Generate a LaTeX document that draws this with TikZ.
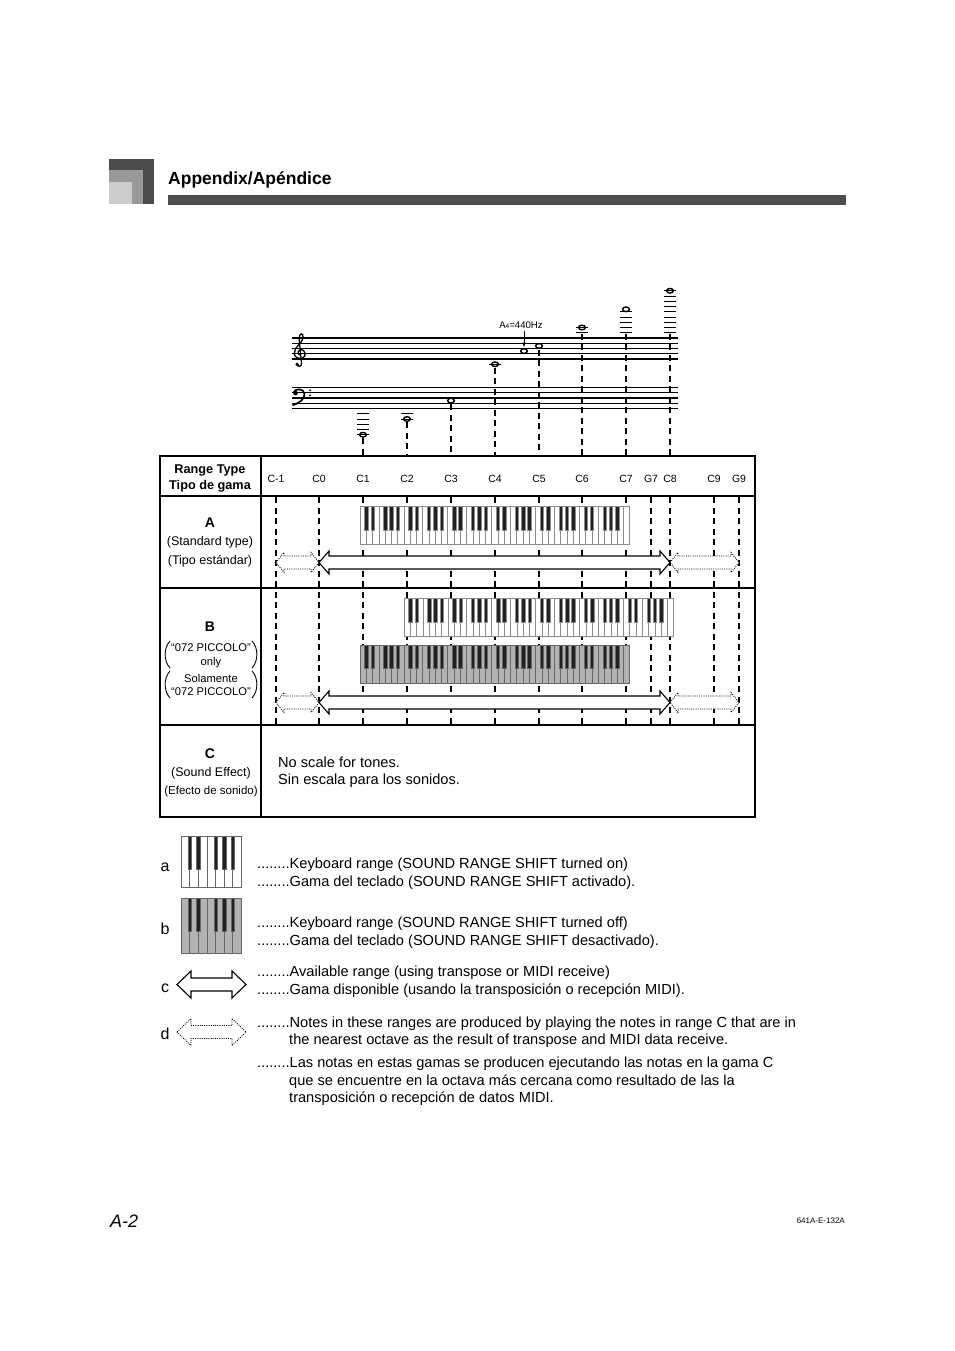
\documentclass[tikz,border=0pt]{standalone}
\usepackage{fontspec}
\setmainfont{Liberation Sans}
\usetikzlibrary{calc,arrows.meta}
\definecolor{hdark}{gray}{0.30}
\definecolor{hmid}{gray}{0.60}
\definecolor{hlight}{gray}{0.80}
\definecolor{keygrey}{gray}{0.70}
\definecolor{keyedge}{gray}{0.55}
\definecolor{keyedgeb}{gray}{0.40}
\definecolor{blackkey}{gray}{0.13}

% #1 x0, #2 white width, #3 white keys, #4 ytop, #5 ybottom, #6 black bottom, #7 fill, #8 black width, #9 edge colour
\newcommand{\pianokb}[9]{%
  \pgfmathtruncatemacro{\kbN}{#3-1}%
  \foreach \ki in {0,...,\kbN}{%
    \draw[#9, fill=#7, line width=0.6] ({#1+\ki*#2},#4) rectangle ({#1+(\ki+1)*#2},#5);
  }%
  \pgfmathtruncatemacro{\kbM}{#3-2}%
  \foreach \ki in {0,...,\kbM}{%
    \pgfmathtruncatemacro{\kbr}{mod(\ki,7)}%
    \ifnum\kbr=2 \else\ifnum\kbr=6 \else
      \draw[#9, fill=blackkey, line width=0.4] ({#1+(\ki+1)*#2-#8/2},#4) rectangle ({#1+(\ki+1)*#2+#8/2},#6);
    \fi\fi
  }%
}
% #1 xl, #2 xr, #3 yc, #4 head length, #5 head half height, #6 shaft half height, #7 style
\newcommand{\dbarrow}[7]{%
  \path[#7] (#1,#3) -- ({#1+#4},{#3-#5}) -- ({#1+#4},{#3-#6}) -- ({#2-#4},{#3-#6}) -- ({#2-#4},{#3-#5}) -- (#2,#3)
    -- ({#2-#4},{#3+#5}) -- ({#2-#4},{#3+#6}) -- ({#1+#4},{#3+#6}) -- ({#1+#4},{#3+#5}) -- cycle;
}

\tikzset{
  txt/.style={anchor=base west, inner sep=0, font=\fontsize{14.6}{17}\selectfont},
  ctxt/.style={anchor=base, inner sep=0},
  colhead/.style={anchor=base, inner sep=0, font=\fontsize{10.5}{12}\selectfont},
  staffline/.style={line width=1.1},
  ledger/.style={line width=1},
  notehead/.style={line width=1.4},
  guide/.style={dash pattern=on 6pt off 4.5pt, line width=1.1},
  tabline/.style={line width=2},
  rowline/.style={line width=1.3},
  solidarrow/.style={draw, fill=white, line width=1.1, line join=miter},
  dotarrow/.style={draw, fill=white, line width=0.8, dash pattern=on 1pt off 1.2pt},
}

\begin{document}
\begin{tikzpicture}[x=1pt,y=-1pt]
\useasboundingbox (0,0) rectangle (954,1351);
\fill[white] (0,0) rectangle (954,1351);

% ---------- header ----------
\fill[hdark] (109,159) rectangle (154,204);
\fill[hmid] (109,170) rectangle (143,204);
\fill[hlight] (109,182) rectangle (132,204);
\fill[hdark] (168,195) rectangle (846,205);
\node[anchor=base west, inner sep=0, font=\fontsize{17.5}{20}\selectfont\bfseries] (title) at (168,185) {Appendix/Apéndice};

% ---------- staves ----------
\foreach \yy in {338,343.25,348.5,353.75,359} \draw[staffline] (291.5,\yy) -- (678,\yy);
\foreach \yy in {387.5,392.75,398,403.25,408.5} \draw[staffline] (291.5,\yy) -- (678,\yy);

% treble clef
\begin{scope}[shift={(300,352)}, scale=1.1]
  \draw[line width=1.3] (-2.6,11.2) .. controls (-2.4,13.8) and (1.8,13.6) .. (1.4,10) -- (-0.8,-12)
    .. controls (-1,-17) and (3.2,-18.5) .. (2.8,-13) .. controls (2.5,-8) and (-5.5,-5) .. (-5.2,1.5)
    .. controls (-5,5.5) and (0,6.8) .. (3,5.2) .. controls (6,3.5) and (4.5,-2.5) .. (1,-2.2)
    .. controls (-2,-2) and (-2.8,2.2) .. (0,2.8);
  \fill (-2.6,11.2) circle (1.7);
\end{scope}
% bass clef
\begin{scope}[shift={(299,392.75)}]
  \fill (-3.5,0.3) circle (2.3);
  \draw[line width=1.7] (-5.5,0) .. controls (-5,-4.5) and (5,-5) .. (5.5,1) .. controls (6,6.5) and (0,10.5) .. (-6.5,12.5);
  \fill (11,-2.6) circle (1.1) (11,2.6) circle (1.1);
\end{scope}

% notes and ledger lines
% C1
\foreach \yy in {413.75,419,424.25,429.5,434.75} \draw[ledger] (357,\yy) -- (369,\yy);
\draw[notehead] (363,434.75) ellipse (3.4 and 2.3);
\coordinate (nC1) at (363,438);
% C2
\foreach \yy in {413.75,419} \draw[ledger] (401,\yy) -- (413,\yy);
\draw[notehead] (407,419) ellipse (3.4 and 2.3);
\coordinate (nC2) at (407,422);
% C3
\draw[notehead] (451,400.6) ellipse (3.4 and 2.3);
\coordinate (nC3) at (451,404);
% C4
\draw[ledger] (489,364.25) -- (501,364.25);
\draw[notehead] (495,364.25) ellipse (3.4 and 2.3);
\coordinate (nC4) at (495,367.5);
% A4
\draw[notehead] (524,351.1) ellipse (3.4 and 2.3);
\coordinate (nA4) at (524,347.5);
% C5
\draw[notehead] (539,345.9) ellipse (3.4 and 2.3);
\coordinate (nC5) at (539,349.5);
% C6
\foreach \yy in {332.75,327.5} \draw[ledger] (576,\yy) -- (588,\yy);
\draw[notehead] (582,327.5) ellipse (3.4 and 2.3);
\coordinate (nC6) at (582,333.5);
% C7
\foreach \yy in {332.75,327.5,322.25,317,311.75} \draw[ledger] (620,\yy) -- (632,\yy);
\draw[notehead] (626,309.3) ellipse (3.4 and 2.3);
\coordinate (nC7) at (626,333.5);
% C8
\foreach \yy in {332.75,327.5,322.25,317,311.75,306.5,301.25,296,290.75} \draw[ledger] (664,\yy) -- (676,\yy);
\draw[notehead] (670,290.75) ellipse (3.4 and 2.3);
\coordinate (nC8) at (670,333.5);

% A4 label
\node[anchor=base, inner sep=0, font=\fontsize{9.6}{10}\selectfont] (a4lbl) at (521,328) {A{\fontsize{6.5}{6}\selectfont 4}=440Hz};
\coordinate (a4top) at (524,331);
\draw[line width=0.9, -{Latex[length=5pt,width=4pt]}] (a4top) -- (nA4);

% guides from staff to table
\foreach \nn/\xx in {nC1/363,nC2/407,nC3/451,nC4/495,nC5/539,nC6/582,nC7/626,nC8/670}{
  \coordinate (t\nn) at (\xx,455);
  \draw[guide] (\nn) -- (t\nn);
}

% ---------- table ----------
\foreach \xx/\nm in {276/C-1,319/C0,363/C1,407/C2,451/C3,495/C4,539/C5,582/C6,626/C7,651/G7,670/C8,714/C9,739/G9}{
  \node[colhead] (col\nm) at (\xx,482) {\nm};
  \draw[guide] (\xx,497) -- (\xx,724);
}

% row A
\pianokb{360}{6.27}{43}{506}{544}{530}{white}{3.4}{keyedge}
\dbarrow{276}{319}{562.5}{8}{10}{6.5}{dotarrow}
\dbarrow{670}{739}{562.5}{8}{10}{6.5}{dotarrow}
\dbarrow{319}{670}{562.5}{10}{11.5}{6.5}{solidarrow}

% row B
\pianokb{404}{6.27}{43}{598}{636}{622}{white}{3.4}{keyedge}
\pianokb{360}{6.27}{43}{645}{683}{668}{keygrey}{3.4}{keyedgeb}
\dbarrow{276}{319}{702.5}{8}{10}{6.5}{dotarrow}
\dbarrow{670}{739}{702.5}{8}{10}{6.5}{dotarrow}
\dbarrow{319}{670}{702.5}{10}{11.5}{6.5}{solidarrow}

% borders
\draw[rowline] (160,588) -- (755,588);
\draw[rowline] (160,725) -- (755,725);
\draw[tabline] (160,496) -- (755,496);
\draw[line width=2.5] (261,456) -- (261,817);
\draw[tabline] (160,456) rectangle (755,817);

% header cell
\node[ctxt, font=\fontsize{12.7}{15}\selectfont\bfseries] (rt1) at (210,473) {Range Type};
\node[ctxt, font=\fontsize{12.7}{15}\selectfont\bfseries] (rt2) at (210,489) {Tipo de gama};

% row A labels
\node[ctxt, font=\fontsize{14}{16}\selectfont\bfseries] (la) at (210,527) {A};
\node[ctxt, font=\fontsize{12.5}{15}\selectfont] (la1) at (210,545) {(Standard type)};
\node[ctxt, font=\fontsize{12.5}{15}\selectfont] (la2) at (210,564) {(Tipo estándar)};

% row B labels
\node[ctxt, font=\fontsize{14}{16}\selectfont\bfseries] (lb) at (210,631) {B};
\node[ctxt, font=\fontsize{11.2}{13}\selectfont] (lb1) at (211,651) {“072 PICCOLO”};
\node[ctxt, font=\fontsize{11.2}{13}\selectfont] (lb2) at (211,665) {only};
\node[ctxt, font=\fontsize{11.2}{13}\selectfont] (lb3) at (211,682) {Solamente};
\node[ctxt, font=\fontsize{11.2}{13}\selectfont] (lb4) at (211,695) {“072 PICCOLO”};
\draw[line width=0.9] (170,641) .. controls (163.5,648) and (163.5,661) .. (170,668);
\draw[line width=0.9] (252,641) .. controls (258.5,648) and (258.5,661) .. (252,668);
\draw[line width=0.9] (170,671) .. controls (163.5,678) and (163.5,691) .. (170,698);
\draw[line width=0.9] (252,671) .. controls (258.5,678) and (258.5,691) .. (252,698);

% row C labels
\node[ctxt, font=\fontsize{14}{16}\selectfont\bfseries] (lc) at (210,758) {C};
\node[ctxt, font=\fontsize{12.5}{15}\selectfont] (lc1) at (211,776) {(Sound Effect)};
\node[ctxt, font=\fontsize{11.5}{14}\selectfont] (lc2) at (211,794) {(Efecto de sonido)};
\node[txt] (nosc1) at (278,767) {No scale for tones.};
\node[txt] (nosc2) at (278,784) {Sin escala para los sonidos.};

% ---------- legend ----------
\node[anchor=base, inner sep=0, font=\fontsize{16}{18}\selectfont] (lga) at (165,871) {a};
\pianokb{181}{8.6}{7}{836}{887}{869}{white}{3.4}{keyedgeb}
\node[txt] (ta1) at (257,868) {........Keyboard range (SOUND RANGE SHIFT turned on)};
\node[txt] (ta2) at (257,886) {........Gama del teclado (SOUND RANGE SHIFT activado).};

\node[anchor=base, inner sep=0, font=\fontsize{16}{18}\selectfont] (lgb) at (165,934) {b};
\pianokb{181}{8.6}{7}{898}{953}{931}{keygrey}{3.4}{keyedgeb}
\node[txt] (tb1) at (257,927) {........Keyboard range (SOUND RANGE SHIFT turned off)};
\node[txt] (tb2) at (257,945) {........Gama del teclado (SOUND RANGE SHIFT desactivado).};

\node[anchor=base, inner sep=0, font=\fontsize{16}{18}\selectfont] (lgc) at (165,992) {c};
\dbarrow{177}{246}{984.5}{14}{13.5}{6.5}{solidarrow}
\node[txt] (tc1) at (257,976) {........Available range (using transpose or MIDI receive)};
\node[txt] (tc2) at (257,994) {........Gama disponible (usando la transposición o recepción MIDI).};

\node[anchor=base, inner sep=0, font=\fontsize{16}{18}\selectfont] (lgd) at (165,1039) {d};
\dbarrow{177}{246}{1032}{14}{13.5}{6.5}{dotarrow}
\node[txt] (td1) at (257,1027) {........Notes in these ranges are produced by playing the notes in range C that are in};
\node[txt] (td2) at (289,1044) {the nearest octave as the result of transpose and MIDI data receive.};
\node[txt] (td3) at (257,1067) {........Las notas en estas gamas se producen ejecutando las notas en la gama C};
\node[txt] (td4) at (289,1085) {que se encuentre en la octava más cercana como resultado de las la};
\node[txt] (td5) at (289,1102) {transposición o recepción de datos MIDI.};

% ---------- footer ----------
\node[anchor=base west, inner sep=0, font=\fontsize{18}{20}\selectfont\itshape] (pg) at (110,1227) {A-2};
\node[anchor=base east, inner sep=0, font=\fontsize{8}{9}\selectfont] (code) at (845,1223) {641A-E-132A};
\end{tikzpicture}
\end{document}
